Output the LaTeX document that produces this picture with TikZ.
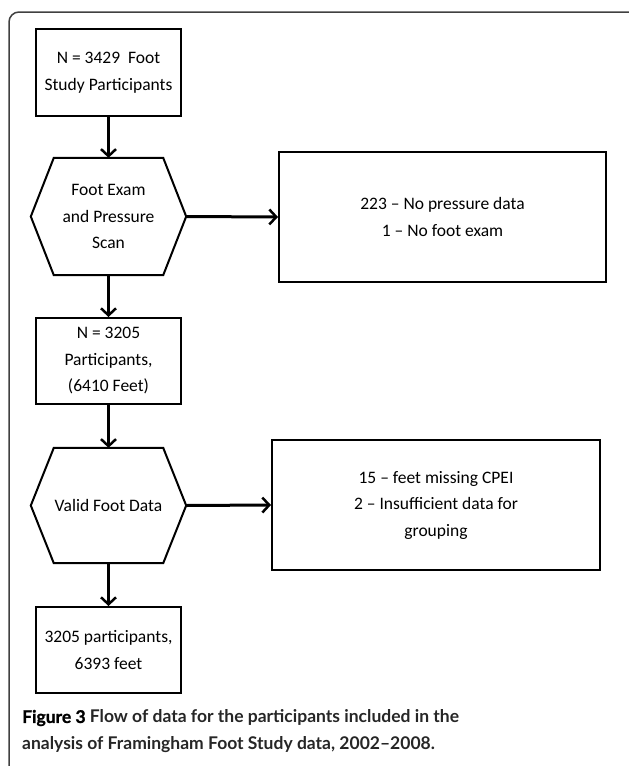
\documentclass[tikz,border=0pt]{standalone}
\usepackage{fontspec}
\setmainfont{Carlito}
\newfontfamily\capfont{Lato}
\usetikzlibrary{arrows.meta}
\begin{document}
\begin{tikzpicture}[x=1pt,y=-1pt,
  flowbox/.style={draw=black,line width=2pt,align=center,inner sep=0pt,font=\fontsize{17.5}{26.5}\selectfont},
  hexnode/.style={align=center,inner sep=0pt,font=\fontsize{17.5}{26.5}\selectfont},
  hexline/.style={draw=black,line width=2pt,line join=miter},
  flowarrow/.style={line width=3pt,-{Straight Barb[length=7pt,width=15pt,line width=2.5pt]}}
]
\useasboundingbox (0,0) rectangle (629,766);
\begin{scope}
\clip (0,0) rectangle (629,766);
\draw[line width=1.5pt,draw=black!75,rounded corners=10pt] (9,12) rectangle (645,785);
\end{scope}

\node[flowbox,minimum width=145pt,minimum height=87pt] (b1) at (108.5,72.5) {N = 3429~ Foot\\Study Participants};
\node[hexnode,minimum width=155pt,minimum height=117pt] (h1) at (108.5,216.5) {Foot Exam\\and Pressure\\Scan};
\draw[hexline] ([xshift=23pt]h1.north west) -- ([xshift=-23pt]h1.north east) -- (h1.east) -- ([xshift=-23pt]h1.south east) -- ([xshift=23pt]h1.south west) -- (h1.west) -- cycle;
\node[flowbox,minimum width=327pt,minimum height=130pt] (b2) at (442.5,217) {223 -- No pressure data\\1 -- No foot exam};
\node[flowbox,minimum width=145pt,minimum height=86pt] (b3) at (108.5,361) {N = 3205\\Participants,\\(6410 Feet)};
\node[hexnode,minimum width=155pt,minimum height=115pt] (h2) at (108.5,505.5) {Valid Foot Data};
\draw[hexline] ([xshift=23pt]h2.north west) -- ([xshift=-23pt]h2.north east) -- (h2.east) -- ([xshift=-23pt]h2.south east) -- ([xshift=23pt]h2.south west) -- (h2.west) -- cycle;
\node[flowbox,minimum width=328pt,minimum height=130pt] (b4) at (436,505) {15 -- feet missing CPEI\\2 -- Insufficient data for\\grouping};
\node[flowbox,minimum width=145pt,minimum height=86pt] (b5) at (108.5,650) {3205 participants,\\6393 feet};

\draw[flowarrow] (b1.south) -- (h1.north);
\draw[flowarrow] (h1.east) -- (b2.west);
\draw[flowarrow] (h1.south) -- (b3.north);
\draw[flowarrow] (b3.south) -- (h2.north);
\draw[flowarrow] (h2.east) -- (b4.west);
\draw[flowarrow] (h2.south) -- (b5.north);

\node[anchor=west,inner sep=0pt,align=left,text=black!85,font=\capfont\bfseries\fontsize{17.5}{27}\selectfont] (cap) at (22,731.5)
 {{\addfontfeature{FakeBold=1.2}\color{black}Figure 3} Flow of data for the participants included in the\\analysis of Framingham Foot Study data, 2002–2008.};
\end{tikzpicture}
\end{document}
